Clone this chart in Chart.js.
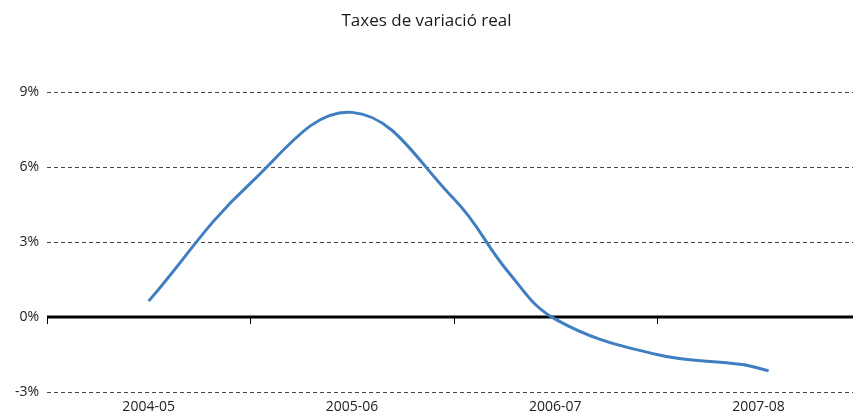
<!DOCTYPE html>
<html>
<head>
<meta charset="utf-8">
<script src="https://cdn.jsdelivr.net/npm/chart.js@4"></script>
<style>
  html, body { margin: 0; padding: 0; background: #fff; }
  #wrap { width: 853px; height: 417px; }
</style>
</head>
<body>
<div id="wrap"><canvas id="chart"></canvas></div>
<script>
// course labels sit in the middle of each year slot
const years = ['2004-05', '2005-06', '2006-07', '2007-08'];
const yearPos = [0.5, 1.5, 2.5, 3.5];
// points of the line, in year-slot units
const xPos = [0.5, 1.0, 1.5, 2.0, 2.27, 2.5, 3.0, 3.42, 3.55];
const rates = [0.64, 5.36, 8.2, 4.75, 1.8, -0.08, -1.5, -1.9, -2.15];
const yTicks = [-3, 0, 3, 6, 9];

const FONT = "'Open Sans', 'Noto Sans', sans-serif";

// thick zero axis with its tick marks, drawn under the line
const zeroAxis = {
    id: 'zeroAxis',
    beforeDatasetsDraw(chart) {
        const {ctx, chartArea, scales: {x, y}} = chart;
        const y0 = y.getPixelForValue(0);
        ctx.save();
        ctx.strokeStyle = '#000';
        ctx.lineWidth = 1;
        for (let i = 0; i <= 3; i++) {
            const px = Math.round(x.getPixelForValue(i)) + 0.5;
            ctx.beginPath();
            ctx.moveTo(px, y0);
            ctx.lineTo(px, y0 + 7);
            ctx.stroke();
        }
        ctx.lineWidth = 3;
        ctx.beginPath();
        ctx.moveTo(chartArea.left, y0);
        ctx.lineTo(chartArea.right, y0);
        ctx.stroke();
        ctx.restore();
    }
};

const ctx = document.getElementById('chart').getContext('2d');
const chart = new Chart(ctx, {
    type: 'line',
    data: {
        datasets: [{
            data: xPos.map((v, i) => ({x: v, y: rates[i]})),
            borderColor: '#3f7fc1',
            borderWidth: 3,
            pointRadius: 0,
            tension: 0.4,
            fill: false
        }]
    },
    options: {
        responsive: true,
        maintainAspectRatio: false,
        animation: false,
        layout: {padding: 0},
        plugins: {
            legend: {display: false},
            tooltip: {enabled: false},
            title: {
                display: true,
                text: 'Taxes de variació real',
                color: '#1a1a1a',
                font: {family: FONT, size: 17, weight: 'normal'},
                padding: {top: 11, bottom: 61}
            }
        },
        scales: {
            x: {
                type: 'linear',
                min: 0,
                max: 3.965,
                afterBuildTicks: axis => { axis.ticks = yearPos.map(v => ({value: v})); },
                afterFit: axis => { axis.height = 25; },
                ticks: {
                    callback: (v) => years[yearPos.indexOf(v)] || '',
                    color: '#222',
                    font: {family: FONT, size: 14},
                    padding: 7,
                    maxRotation: 0
                },
                grid: {display: false, drawTicks: false},
                border: {display: false}
            },
            y: {
                min: -3,
                max: 9,
                afterBuildTicks: axis => { axis.ticks = yTicks.map(v => ({value: v})); },
                afterFit: axis => { axis.width = 47; },
                ticks: {
                    callback: v => v + '%',
                    color: '#222',
                    font: {family: FONT, size: 14},
                    padding: 8
                },
                grid: {color: '#444', lineWidth: 1, drawTicks: false},
                border: {display: false, dash: [4, 3]}
            }
        }
    },
    plugins: [zeroAxis]
});
</script>
</body>
</html>
